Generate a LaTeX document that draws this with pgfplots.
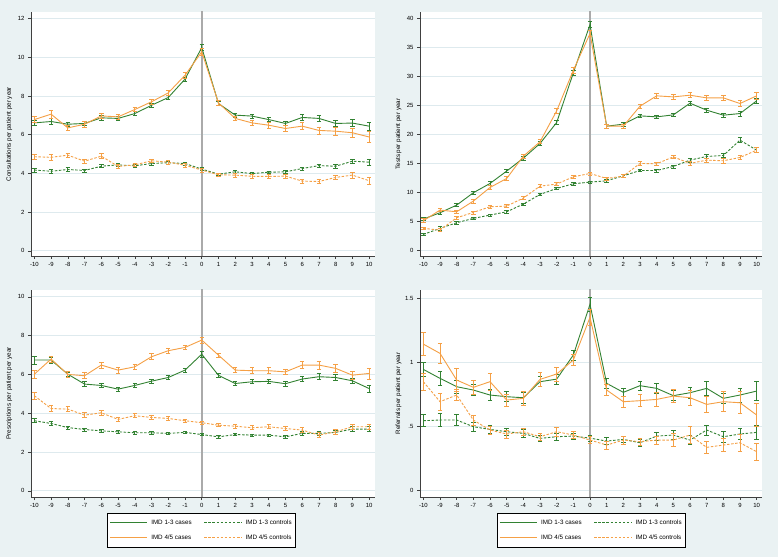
\documentclass[border=0pt]{standalone}
\usepackage{pgfplots}
\pgfplotsset{compat=1.18}
\usepackage{fontspec}
\setmainfont{Liberation Sans}

\definecolor{bg}{RGB}{234,242,243}
\definecolor{grn}{RGB}{50,130,50}
\definecolor{org}{RGB}{245,160,70}
\definecolor{grd}{RGB}{222,234,238}
\definecolor{vln}{RGB}{170,170,170}

\pgfplotsset{
  panel/.style={
    scale only axis,
    axis background/.style={fill=white},
    axis x line*=bottom, axis y line*=left,
    axis line style={black!75, line width=0.6bp},
    tick style={black!75, line width=0.5bp},
    tick align=outside, major tick length=3bp,
    xmin=-10.2, xmax=10.35, xtick={-10,...,10},
    ymajorgrids, grid style={grd, line width=0.7bp},
    ticklabel style={font=\fontsize{6}{7}\selectfont},
    /pgf/number format/assume math mode=true,
    ylabel style={at={(rel axis cs:-0.063,0.5)}, anchor=center, font=\fontsize{6.3}{7}\selectfont},
    clip=true,
    legend image code/.code={\draw[##1, line width=1bp] (0bp,0bp) -- (37bp,0bp);},
  },
  ser/.style={mark=none, line width=0.9bp, color=#1,
    error bars/y dir=both, error bars/y explicit, error bars/error mark=|,
    error bars/error bar style={solid, line width=0.7bp, color=#1},
    error bars/error mark options={solid, mark size=2.2bp, line width=0.7bp, color=#1}},
  gcase/.style={ser=grn},
  ocase/.style={ser=org},
  gctrl/.style={ser=grn, dash pattern=on 2.5bp off 1.6bp},
  octrl/.style={ser=org, dash pattern=on 2.5bp off 1.6bp},
  leg/.style={legend style={at={(0.221,-0.077)}, anchor=north west, draw=black, line width=0.5bp,
    fill=white, font=\fontsize{6.3}{7}\selectfont, legend columns=2, legend cell align=left,
    row sep=5bp, inner ysep=4.5bp, inner xsep=2bp,
    /tikz/every odd column/.append style={column sep=2bp},
    /tikz/every even column/.append style={column sep=10bp}}},
}

\begin{document}
\begin{tikzpicture}
\fill[bg] (0,0) rectangle (778bp,557bp);

% Consultations
\begin{axis}[panel, at={(31bp,301bp)}, anchor=south west, width=344bp, height=244bp,
  ymin=-0.27, ymax=12.34, ytick={0,2,...,12}, ylabel={Consultations per patient per year}]
\addplot[vln, line width=2bp, forget plot] coordinates {(0,-1) (0,20)};
\addplot[gcase] table[x=x, y=y, y error=e] {
x y e
-10 6.61 0.15
-9 6.68 0.15
-8 6.54 0.12
-7 6.58 0.12
-6 6.87 0.12
-5 6.84 0.10
-4 7.09 0.10
-3 7.52 0.10
-2 7.92 0.10
-1 8.87 0.10
0 10.50 0.15
1 7.61 0.10
2 7.01 0.10
3 6.96 0.10
4 6.78 0.10
5 6.58 0.10
6 6.89 0.15
7 6.84 0.15
8 6.58 0.15
9 6.60 0.18
10 6.44 0.20
};
\addplot[gctrl] table[x=x, y=y, y error=e] {
x y e
-10 4.17 0.10
-9 4.11 0.10
-8 4.20 0.10
-7 4.15 0.08
-6 4.37 0.08
-5 4.44 0.10
-4 4.39 0.08
-3 4.51 0.08
-2 4.55 0.08
-1 4.51 0.08
0 4.22 0.08
1 3.96 0.06
2 4.08 0.08
3 3.99 0.06
4 4.06 0.06
5 4.08 0.08
6 4.25 0.08
7 4.40 0.08
8 4.37 0.10
9 4.63 0.12
10 4.58 0.15
};
\addplot[ocase] table[x=x, y=y, y error=e] {
x y e
-10 6.78 0.15
-9 7.06 0.20
-8 6.35 0.15
-7 6.54 0.15
-6 6.97 0.15
-5 6.92 0.12
-4 7.30 0.12
-3 7.70 0.12
-2 8.16 0.15
-1 9.07 0.15
0 10.28 0.20
1 7.64 0.12
2 6.84 0.12
3 6.61 0.15
4 6.49 0.15
5 6.32 0.15
6 6.44 0.18
7 6.22 0.18
8 6.18 0.20
9 6.10 0.22
10 5.88 0.28
};
\addplot[octrl] table[x=x, y=y, y error=e] {
x y e
-10 4.86 0.12
-9 4.83 0.15
-8 4.94 0.12
-7 4.63 0.12
-6 4.89 0.12
-5 4.36 0.12
-4 4.44 0.10
-3 4.65 0.10
-2 4.58 0.10
-1 4.42 0.10
0 4.17 0.10
1 3.93 0.08
2 3.91 0.10
3 3.85 0.10
4 3.84 0.10
5 3.86 0.10
6 3.60 0.10
7 3.58 0.12
8 3.79 0.12
9 3.91 0.15
10 3.62 0.20
};
\end{axis}

% Tests
\begin{axis}[panel, at={(420bp,301bp)}, anchor=south west, width=342bp, height=244bp,
  xmax=10.32, ymin=-0.91, ymax=41.14, ytick={0,5,...,40}, ylabel={Tests per patient per year}]
\addplot[vln, line width=2bp, forget plot] coordinates {(0,-5) (0,50)};
\addplot[gcase] table[x=x, y=y, y error=e] {
x y e
-10 5.45 0.30
-9 6.54 0.25
-8 7.86 0.25
-7 9.99 0.25
-6 11.59 0.30
-5 13.72 0.30
-4 15.95 0.30
-3 18.48 0.30
-2 22.09 0.35
-1 30.65 0.40
0 38.97 0.50
1 21.46 0.35
2 21.81 0.30
3 23.24 0.30
4 23.07 0.30
5 23.41 0.30
6 25.42 0.35
7 24.22 0.35
8 23.36 0.35
9 23.64 0.40
10 25.83 0.45
};
\addplot[gctrl] table[x=x, y=y, y error=e] {
x y e
-10 2.81 0.20
-9 3.85 0.30
-8 4.82 0.20
-7 5.57 0.20
-6 6.14 0.20
-5 6.71 0.20
-4 8.03 0.20
-3 9.70 0.20
-2 10.73 0.20
-1 11.54 0.20
0 11.82 0.20
1 12.05 0.20
2 12.91 0.20
3 13.83 0.20
4 13.83 0.25
5 14.52 0.25
6 15.61 0.30
7 16.24 0.30
8 16.41 0.35
9 19.05 0.45
10 17.33 0.40
};
\addplot[ocase] table[x=x, y=y, y error=e] {
x y e
-10 5.16 0.35
-9 7.00 0.30
-8 6.71 0.30
-7 8.55 0.35
-6 10.90 0.35
-5 12.45 0.30
-4 16.30 0.35
-3 18.77 0.35
-2 24.10 0.40
-1 31.10 0.45
0 37.42 0.55
1 21.46 0.35
2 21.46 0.35
3 24.91 0.35
4 26.69 0.40
5 26.51 0.40
6 26.80 0.45
7 26.34 0.45
8 26.34 0.50
9 25.37 0.50
10 26.69 0.60
};
\addplot[octrl] table[x=x, y=y, y error=e] {
x y e
-10 3.85 0.25
-9 3.56 0.25
-8 5.68 0.25
-7 6.60 0.25
-6 7.58 0.25
-5 7.69 0.25
-4 9.07 0.25
-3 11.13 0.25
-2 11.48 0.25
-1 12.74 0.25
0 13.31 0.25
1 12.45 0.25
2 12.86 0.25
3 15.04 0.30
4 14.98 0.30
5 16.18 0.30
6 15.04 0.35
7 15.61 0.35
8 15.50 0.40
9 16.07 0.40
10 17.33 0.45
};
\end{axis}

% Prescriptions
\begin{axis}[panel, leg, at={(31bp,60bp)}, anchor=south west, width=344bp, height=207bp,
  ymin=-0.32, ymax=10.35, ytick={0,2,...,10}, ylabel={Prescriptions per patient per year}]
\addplot[vln, line width=2bp, forget plot] coordinates {(0,-1) (0,20)};
\addplot[gcase] table[x=x, y=y, y error=e] {
x y e
-10 6.74 0.20
-9 6.74 0.15
-8 6.01 0.12
-7 5.50 0.12
-6 5.43 0.12
-5 5.24 0.10
-4 5.43 0.10
-3 5.65 0.10
-2 5.84 0.10
-1 6.22 0.10
0 7.04 0.15
1 5.95 0.10
2 5.53 0.10
3 5.62 0.10
4 5.64 0.10
5 5.52 0.12
6 5.76 0.12
7 5.88 0.15
8 5.84 0.15
9 5.67 0.15
10 5.27 0.18
};
\addplot[gctrl] table[x=x, y=y, y error=e] {
x y e
-10 3.61 0.10
-9 3.47 0.10
-8 3.26 0.08
-7 3.16 0.08
-6 3.09 0.08
-5 3.04 0.08
-4 2.99 0.08
-3 2.99 0.06
-2 2.96 0.06
-1 3.01 0.06
0 2.90 0.06
1 2.78 0.06
2 2.90 0.06
3 2.87 0.06
4 2.87 0.06
5 2.78 0.06
6 2.96 0.08
7 2.96 0.08
8 3.01 0.08
9 3.18 0.12
10 3.18 0.12
};
\addplot[ocase] table[x=x, y=y, y error=e] {
x y e
-10 6.01 0.20
-9 6.79 0.15
-8 6.00 0.15
-7 5.93 0.15
-6 6.48 0.15
-5 6.22 0.15
-4 6.39 0.15
-3 6.91 0.15
-2 7.22 0.12
-1 7.39 0.12
0 7.77 0.15
1 6.99 0.12
2 6.22 0.12
3 6.19 0.15
4 6.19 0.15
5 6.13 0.15
6 6.48 0.18
7 6.48 0.20
8 6.31 0.20
9 5.96 0.22
10 6.05 0.28
};
\addplot[octrl] table[x=x, y=y, y error=e] {
x y e
-10 4.90 0.18
-9 4.24 0.15
-8 4.21 0.12
-7 3.90 0.12
-6 4.02 0.12
-5 3.68 0.12
-4 3.87 0.10
-3 3.78 0.10
-2 3.73 0.10
-1 3.61 0.08
0 3.51 0.08
1 3.38 0.08
2 3.33 0.10
3 3.25 0.10
4 3.30 0.10
5 3.21 0.12
6 3.13 0.12
7 2.87 0.12
8 3.04 0.12
9 3.30 0.15
10 3.30 0.15
};
\legend{IMD 1-3 cases, IMD 1-3 controls, IMD 4/5 cases, IMD 4/5 controls}
\end{axis}

% Referrals
\begin{axis}[panel, leg, at={(420bp,60bp)}, anchor=south west, width=342bp, height=207bp,
  xmax=10.32, ymin=-0.049, ymax=1.565, ytick={0,0.5,1,1.5}, yticklabels={0,.5,1,1.5},
  ylabel={Referrals per patient per year}, legend style={at={(0.225,-0.077)}}]
\addplot[vln, line width=2bp, forget plot] coordinates {(0,-1) (0,2)};
\addplot[gcase] table[x=x, y=y, y error=e] {
x y e
-10 0.946 0.058
-9 0.876 0.052
-8 0.811 0.052
-7 0.785 0.045
-6 0.746 0.045
-5 0.733 0.040
-4 0.725 0.040
-3 0.850 0.040
-2 0.870 0.040
-1 1.058 0.040
0 1.453 0.055
1 0.837 0.040
2 0.767 0.033
3 0.819 0.037
4 0.798 0.040
5 0.741 0.040
6 0.764 0.040
7 0.798 0.055
8 0.720 0.040
9 0.746 0.055
10 0.777 0.075
};
\addplot[gctrl] table[x=x, y=y, y error=e] {
x y e
-10 0.546 0.048
-9 0.551 0.050
-8 0.551 0.042
-7 0.499 0.035
-6 0.478 0.030
-5 0.460 0.030
-4 0.447 0.030
-3 0.408 0.025
-2 0.421 0.030
-1 0.426 0.025
0 0.410 0.025
1 0.387 0.026
2 0.400 0.026
3 0.374 0.026
4 0.426 0.030
5 0.434 0.036
6 0.395 0.036
7 0.473 0.040
8 0.421 0.043
9 0.442 0.045
10 0.455 0.052
};
\addplot[ocase] table[x=x, y=y, y error=e] {
x y e
-10 1.143 0.090
-9 1.071 0.078
-8 0.863 0.088
-7 0.806 0.058
-6 0.850 0.068
-5 0.707 0.048
-4 0.720 0.052
-3 0.868 0.052
-2 0.910 0.055
-1 1.019 0.045
0 1.352 0.060
1 0.785 0.045
2 0.694 0.045
3 0.702 0.048
4 0.712 0.052
5 0.738 0.052
6 0.725 0.060
7 0.673 0.065
8 0.694 0.078
9 0.686 0.085
10 0.590 0.090
};
\addplot[octrl] table[x=x, y=y, y error=e] {
x y e
-10 0.850 0.065
-9 0.694 0.065
-8 0.746 0.045
-7 0.551 0.040
-6 0.473 0.030
-5 0.442 0.030
-4 0.460 0.030
-3 0.421 0.030
-2 0.460 0.035
-1 0.434 0.025
0 0.395 0.025
1 0.356 0.030
2 0.395 0.030
3 0.382 0.030
4 0.395 0.030
5 0.395 0.052
6 0.434 0.065
7 0.338 0.050
8 0.356 0.052
9 0.374 0.069
10 0.304 0.069
};
\legend{IMD 1-3 cases, IMD 1-3 controls, IMD 4/5 cases, IMD 4/5 controls}
\end{axis}
\end{tikzpicture}
\end{document}
